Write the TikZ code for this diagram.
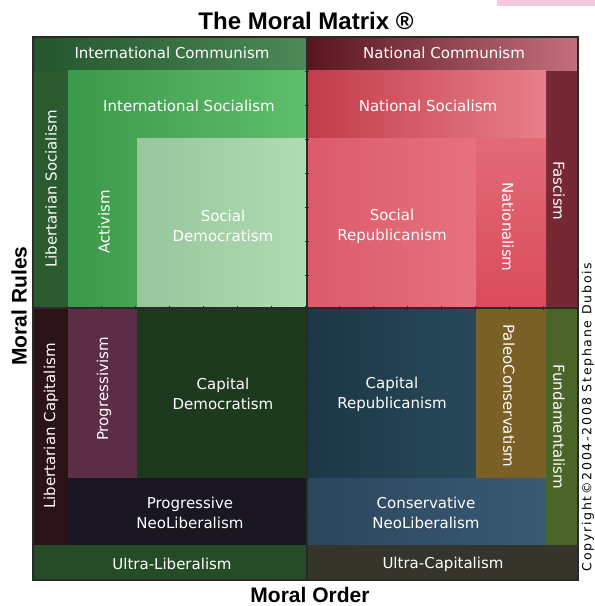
\documentclass[tikz,border=0pt]{standalone}
\usepackage{fontspec}
\setmainfont{DejaVu Sans}
\newfontfamily\headfont{Liberation Sans}
\newfontfamily\copyfont[LetterSpace=14]{DejaVu Sans}

\definecolor{libsoc}{HTML}{2B5A31}
\definecolor{intcomL}{HTML}{24552D}
\definecolor{intcomR}{HTML}{4C8A57}
\definecolor{intsocL}{HTML}{3C984A}
\definecolor{intsocR}{HTML}{5FBF6C}
\definecolor{socdemL}{HTML}{96C69D}
\definecolor{socdemR}{HTML}{B0DCB2}
\definecolor{fascism}{HTML}{762833}
\definecolor{natcomL}{HTML}{581520}
\definecolor{natcomR}{HTML}{C4707C}
\definecolor{natsocL}{HTML}{C23C4A}
\definecolor{natsocR}{HTML}{E8808A}
\definecolor{nationalism}{HTML}{DA4B5B}
\definecolor{socrepL}{HTML}{DC5A69}
\definecolor{socrepR}{HTML}{E6727E}
\definecolor{libcap}{HTML}{2B1216}
\definecolor{progress}{HTML}{5C2E46}
\definecolor{capdem}{HTML}{1D3A1F}
\definecolor{progneo}{HTML}{1B1722}
\definecolor{ultralib}{HTML}{254C27}
\definecolor{caprepL}{HTML}{1C3746}
\definecolor{caprepR}{HTML}{28495A}
\definecolor{paleo}{HTML}{7A5F26}
\definecolor{consneoL}{HTML}{2B465D}
\definecolor{consneoR}{HTML}{395A74}
\definecolor{fundament}{HTML}{4B6428}
\definecolor{ultracap}{HTML}{35352B}
\definecolor{framegray}{HTML}{2A2A2A}
\definecolor{stripe}{HTML}{F6C8DD}

\begin{document}
\begin{tikzpicture}[
		x=1pt, y=-1pt,
		lbl/.style={text=white, font=\fontsize{15}{20}\selectfont, align=center, inner sep=0pt},
		uplbl/.style={lbl, rotate=90},
		downlbl/.style={lbl, rotate=-90},
		axistitle/.style={font=\headfont\bfseries\fontsize{21}{24}\selectfont, inner sep=0pt},
		tick/.style={framegray, line width=1pt}
	]
	\useasboundingbox (0,0) rectangle (595,606);
	\fill[stripe] (497,0) rectangle (595,6);

	% Upper left quadrant
	\fill[libsoc] (33,37) rectangle (307,308);
	\fill[left color=intcomL, right color=intcomR] (33,37) rectangle (307,70);
	\fill[left color=intsocL, right color=intsocR] (68,70) rectangle (307,308);
	\fill[left color=socdemL, right color=socdemR] (137,138) rectangle (307,308);

	% Upper right quadrant
	\fill[fascism] (307,37) rectangle (578,308);
	\fill[left color=natcomL, right color=natcomR] (307,37) rectangle (578,70);
	\fill[left color=natsocL, right color=natsocR] (307,70) rectangle (546,138);
	\fill[top color=natsocR!60!nationalism, bottom color=nationalism] (476,138) rectangle (546,308);
	\fill[left color=socrepL, right color=socrepR] (307,138) rectangle (476,308);

	% Lower left quadrant
	\fill[libcap] (33,308) rectangle (68,545);
	\fill[progress] (68,308) rectangle (137,478);
	\fill[capdem] (137,308) rectangle (307,478);
	\fill[progneo] (68,478) rectangle (307,545);
	\fill[ultralib] (33,545) rectangle (307,580);

	% Lower right quadrant
	\fill[left color=caprepL, right color=caprepR] (307,308) rectangle (476,478);
	\fill[paleo] (476,308) rectangle (546,478);
	\fill[left color=consneoL, right color=consneoR] (307,478) rectangle (546,545);
	\fill[fundament] (546,308) rectangle (578,545);
	\fill[ultracap] (307,545) rectangle (578,580);

	% Frame and axes
	\draw[framegray, line width=1.5pt] (33,37) rectangle (578,580);
	\draw[framegray, line width=1.2pt] (307,37) -- (307,580);
	\draw[framegray, line width=1.2pt] (33,308) -- (578,308);
	\foreach \k in {1,...,15} {
		\draw[tick] (305,{37+34*\k}) -- (309,{37+34*\k});
		\draw[tick] ({33+34*\k},306) -- ({33+34*\k},310);
	}

	% Labels
	\node[lbl] (intcom) at (172,53) {International Communism};
	\node[lbl] (natcom) at (444,53) {National Communism};
	\node[lbl] (intsoc) at (189,106) {International Socialism};
	\node[lbl] (natsoc) at (428,106) {National Socialism};
	\node[uplbl] (libsoc) at (51,189) {Libertarian Socialism};
	\node[uplbl] (activ) at (104,222) {Activism};
	\node[lbl] (socdem) at (223,226) {Social\\Democratism};
	\node[lbl] (socrep) at (392,226) {Social\\Republicanism};
	\node[downlbl] (nation) at (508,227) {Nationalism};
	\node[downlbl] (fasc) at (559,191) {Fascism};

	\node[uplbl] (libcap) at (51,426) {Libertarian Capitalism};
	\node[uplbl] (progr) at (104,389) {Progressivism};
	\node[lbl] (capdem) at (223,394) {Capital\\Democratism};
	\node[lbl] (caprep) at (392,394) {Capital\\Republicanism};
	\node[downlbl] (paleo) at (509,396) {PaleoConservatism};
	\node[downlbl] (fund) at (559,427) {Fundamentalism};
	\node[lbl] (progneo) at (190,513) {Progressive\\NeoLiberalism};
	\node[lbl] (consneo) at (426,513) {Conservative\\NeoLiberalism};
	\node[lbl] (ultralib) at (172,564) {Ultra-Liberalism};
	\node[lbl] (ultracap) at (443,564) {Ultra-Capitalism};

	% Titles
	\node[font=\headfont\bfseries\fontsize{24}{28}\selectfont, inner sep=0pt] (title) at (306,21) {The Moral Matrix \textregistered};
	\node[axistitle] (order) at (310,595) {Moral Order};
	\node[axistitle, rotate=90] (rules) at (19,306) {Moral Rules};
	\node[font=\copyfont\fontsize{12.5}{14}\selectfont, rotate=90, inner sep=0pt] (copy) at (588,417) {Copyright©2004-2008 Stephane Dubois};
\end{tikzpicture}
\end{document}
